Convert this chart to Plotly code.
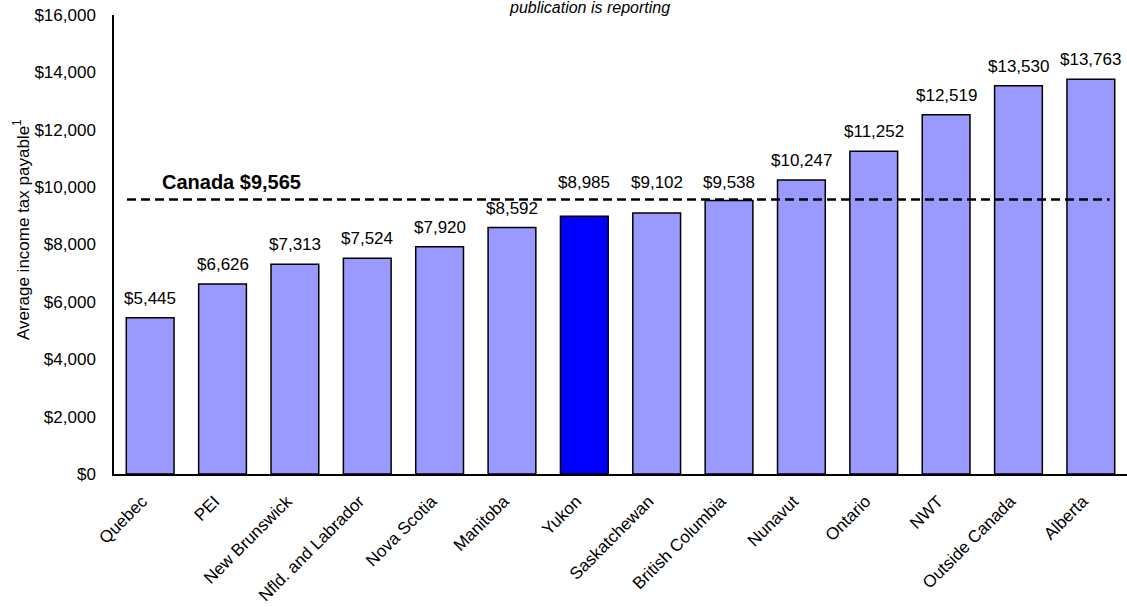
import plotly.graph_objects as go

# Average income tax payable by jurisdiction
regions = ["Quebec", "PEI", "New Brunswick", "Nfld. and Labrador", "Nova Scotia",
           "Manitoba", "Yukon", "Saskatchewan", "British Columbia", "Nunavut",
           "Ontario", "NWT", "Outside Canada", "Alberta"]
tax_payable = [5445, 6626, 7313, 7524, 7920, 8592, 8985, 9102, 9538, 10247,
               11252, 12519, 13530, 13763]
canada_avg = 9565
highlight = "Yukon"

y_ticks = list(range(0, 16001, 2000))
y_tick_text = [f"${v:,}" for v in y_ticks]

FONT = "Arial, Liberation Sans, sans-serif"

colors = ["#0000FF" if r == highlight else "#9999FF" for r in regions]

fig = go.Figure()
fig.add_trace(go.Bar(
    x=regions,
    y=tax_payable,
    marker=dict(color=colors, line=dict(color="#000000", width=1.5)),
    hoverinfo="x+y",
    showlegend=False,
))

# Value labels; bars just under the average get their label lifted above the dashed line
for region, value in zip(regions, tax_payable):
    near_line = canada_avg - 700 < value < canada_avg
    fig.add_annotation(
        x=region, y=canada_avg if near_line else value, xref="x", yref="y",
        text=f"${value:,}", showarrow=False,
        yanchor="bottom", yshift=6 if near_line else 8,
        font=dict(family=FONT, size=17, color="#000000"),
    )

# Canada-wide average reference line
fig.add_shape(
    type="line", xref="x", yref="y",
    x0=-0.32, x1=13.26, y0=canada_avg, y1=canada_avg,
    line=dict(color="#000000", width=2.5, dash="9px,5px"),
    layer="above",
)
fig.add_annotation(
    x=1.12, y=canada_avg, xref="x", yref="y",
    text=f"<b>Canada ${canada_avg:,}</b>",
    showarrow=False, yanchor="bottom", yshift=5,
    font=dict(family=FONT, size=20, color="#000000"),
)

fig.add_annotation(
    x=0.469, y=1.0, xref="paper", yref="paper",
    text="<i>publication is reporting</i>",
    showarrow=False, yanchor="middle", yshift=8,
    font=dict(family=FONT, size=16, color="#000000"),
)

fig.add_annotation(
    x=-0.0915, y=0.532, xref="paper", yref="paper",
    text="Average income tax payable<sup>1</sup>",
    textangle=-90, showarrow=False, xanchor="center", yanchor="middle",
    font=dict(family=FONT, size=17, color="#000000"),
)

fig.update_layout(
    width=1127, height=607,
    margin=dict(l=114, r=0, t=15, b=133),
    plot_bgcolor="#FFFFFF", paper_bgcolor="#FFFFFF",
    bargap=0.34,
    font=dict(family=FONT, size=16, color="#000000"),
    xaxis=dict(
        tickangle=-45,
        tickfont=dict(family=FONT, size=17, color="#000000"),
        showline=True, linecolor="#000000", linewidth=1.5,
        showgrid=False, ticks="", automargin=False,
        ticklabelstandoff=9, ticklabelshift=-8,
    ),
    yaxis=dict(
        range=[0, 16000],
        tickvals=y_ticks, ticktext=y_tick_text,
        tickfont=dict(family=FONT, size=17, color="#000000"),
        showline=True, linecolor="#000000", linewidth=1.5,
        showgrid=False, zeroline=False, ticks="", automargin=False,
        ticklabelstandoff=13,
    ),
)

fig.write_html("out.html")
